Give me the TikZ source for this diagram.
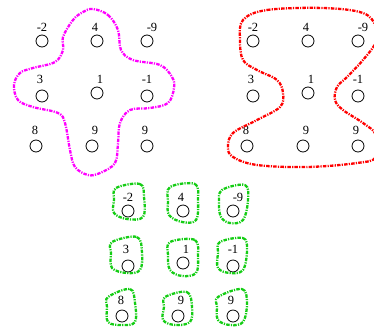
\documentclass[tikz,border=0pt]{standalone}
\usepackage{fontspec}
\setmainfont{Liberation Serif}
\definecolor{blobmag}{RGB}{255,0,255}
\definecolor{blobred}{RGB}{255,0,0}
\definecolor{blobgreen}{RGB}{20,205,20}
\tikzset{
  dot/.style={circle,draw,line width=0.8pt,minimum size=12pt,inner sep=0pt},
  lab/.style={inner sep=0pt,font=\fontsize{12.5}{13}\selectfont},
  blob/.style={line width=2.3pt,dash pattern=on 3.5pt off 1.2pt on 1.2pt off 1.2pt},
}
\begin{document}
\begin{tikzpicture}[x=1pt,y=-1pt]
\useasboundingbox (0,0) rectangle (374,327);
\clip (0,0) rectangle (374,327);
\foreach \p/\sx/\sy in {l/0/0, r/211/0, b/86/170}{
  \begin{scope}[shift={(\sx,\sy)}]
  \foreach \n/\x/\y/\t/\dx/\dy in {1/42/41/-2/0/-14, 2/97/41/4/-2/-14, 3/147/41/-9/5/-14,
      4/42/96/3/-2/-17, 5/97/93/1/3/-14, 6/147/96/-1/0/-17,
      7/36/146/8/-1/-16, 8/92/146/9/3/-16, 9/147/146/9/-2/-16}{
    \node[dot] (\p\n) at (\x,\y) {};
    \node[lab] (\p\n t) at (\x+\dx,\y+\dy) {\t};
  }
  \end{scope}
}
% magenta cross-shaped region
\draw[blob,blobmag] plot[smooth cycle,tension=0.6] coordinates {
 (93,9) (108,15) (118,30) (121,50) (133,60) (160,65) (172,77) (174,88) (168,103)
 (150,108) (130,110) (120,123) (118,143) (115,163) (100,173) (88,175) (75,167)
 (70,150) (65,123) (58,113) (33,107) (18,100) (14,85) (20,73) (33,68) (55,62)
 (63,50) (63,37) (73,20) (83,12)};
% red hourglass region
\draw[blob,blobred] plot[smooth cycle,tension=0.6] coordinates {
 (243,20) (267,10) (323,8) (363,13) (376,27) (376,42) (363,60) (347,77) (337,87)
 (335,100) (343,110) (363,123) (376,135) (376,157) (357,163) (307,167) (257,165)
 (233,157) (228,147) (233,133) (257,120) (280,107) (283,93) (277,80) (257,70)
 (243,60) (240,40)};
% green singleton regions
\foreach \pts in {
 {(116,188) (140,184) (144,197) (143,217) (127,219) (114,213) (114,200)},
 {(170,187) (195,184) (198,200) (196,220) (182,222) (169,215) (168,202)},
 {(222,190) (245,185) (248,200) (243,220) (230,223) (221,217) (219,203)},
 {(112,242) (137,237) (142,253) (140,270) (127,273) (112,268) (111,253)},
 {(170,242) (195,240) (198,257) (196,273) (182,276) (170,270) (168,255)},
 {(220,242) (243,238) (247,250) (243,270) (230,273) (218,268) (218,253)},
 {(108,297) (130,289) (135,303) (135,322) (122,325) (108,322) (107,307)},
 {(165,297) (187,292) (192,307) (190,322) (175,325) (163,320) (164,307)},
 {(218,297) (242,289) (247,303) (243,322) (230,325) (218,320) (217,307)}}{
  \draw[blob,blobgreen] plot[smooth cycle,tension=0.6] coordinates \pts;
}
\end{tikzpicture}
\end{document}
